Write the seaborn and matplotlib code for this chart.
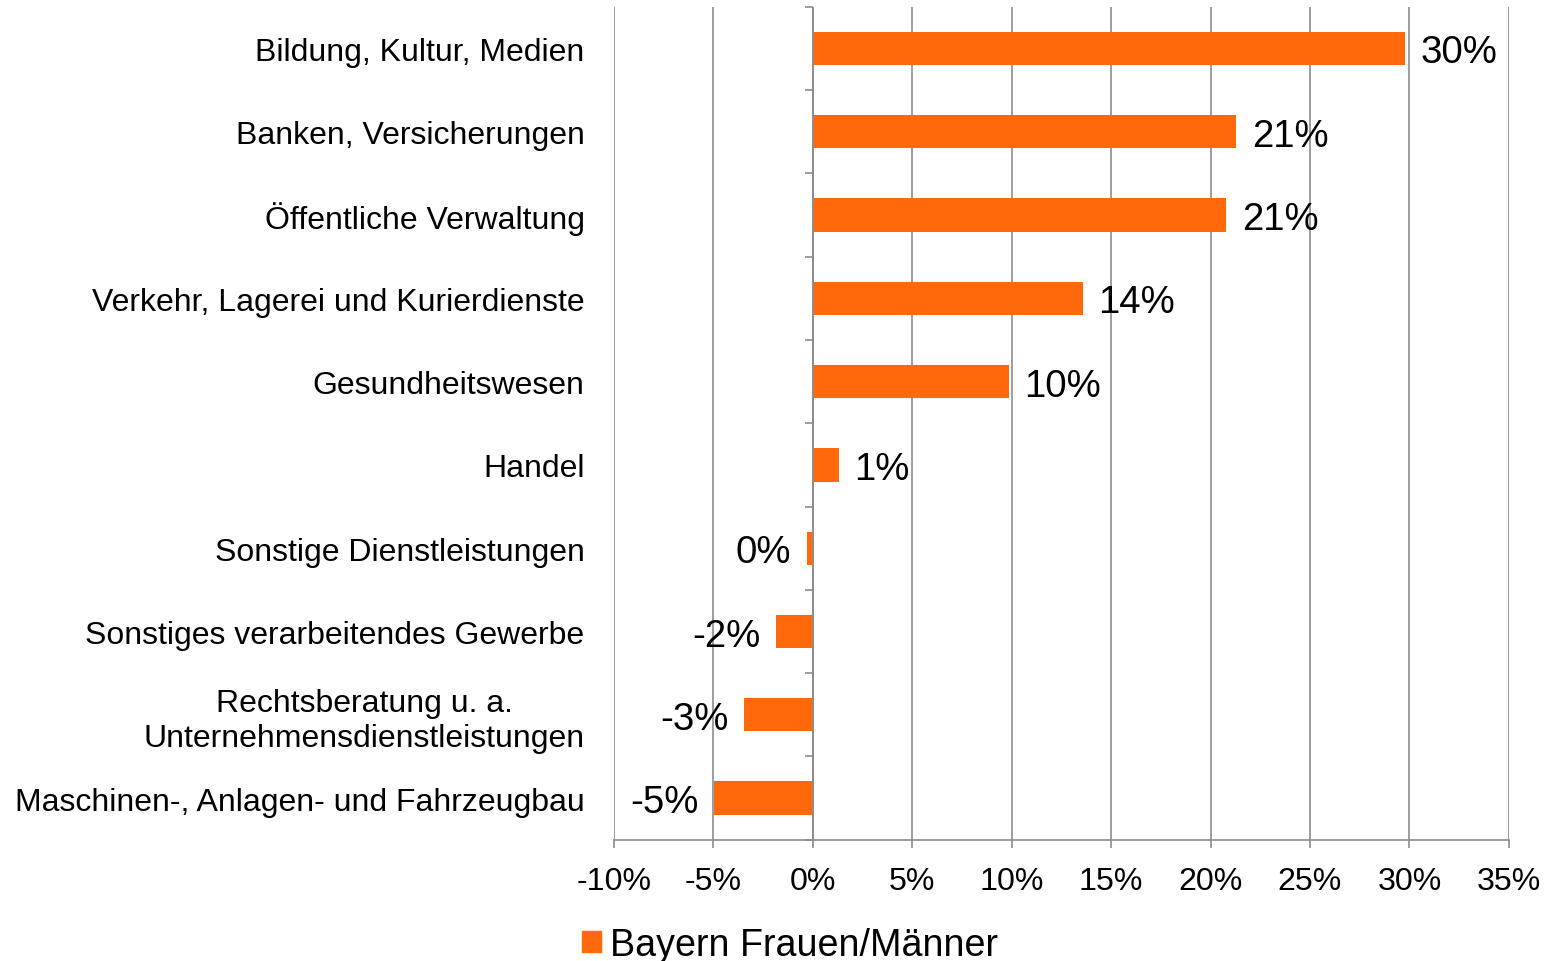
import matplotlib.pyplot as plt
import numpy as np
import pandas as pd
import seaborn as sns
from matplotlib.patches import Patch

# Data (percent)
categories = [
    "Bildung, Kultur, Medien",
    "Banken, Versicherungen",
    "Öffentliche Verwaltung",
    "Verkehr, Lagerei und Kurierdienste",
    "Gesundheitswesen",
    "Handel",
    "Sonstige Dienstleistungen",
    "Sonstiges verarbeitendes Gewerbe",
    "Rechtsberatung u. a.\nUnternehmensdienstleistungen",
    "Maschinen-, Anlagen- und Fahrzeugbau",
]
values = [29.8, 21.3, 20.8, 13.6, 9.85, 1.3, -0.3, -1.85, -3.45, -4.95]
x_ticks = [-10, -5, 0, 5, 10, 15, 20, 25, 30, 35]
series_name = "Bayern Frauen/Männer"

ORANGE = "#FF690C"
GRID = "#8C8C8C"

sns.set_theme(style="white")
plt.rcParams["font.family"] = ["Liberation Sans", "DejaVu Sans"]
plt.rcParams["text.color"] = "black"
plt.rcParams["xtick.labelcolor"] = "black"
plt.rcParams["ytick.labelcolor"] = "black"

df = pd.DataFrame({"Branche": categories, "Wert": values})

fig, ax = plt.subplots(figsize=(15.46, 9.62), dpi=100)
fig.subplots_adjust(left=0.397, right=0.976, top=0.992, bottom=0.126)

ax.set_axisbelow(True)
ax.xaxis.grid(True, color=GRID, linewidth=1.2)
ax.yaxis.grid(False)

sns.barplot(data=df, x="Wert", y="Branche", orient="h", color=ORANGE,
            saturation=1, width=0.4, linewidth=0, ax=ax)
ax.set_ylim(len(categories) - 0.5, -0.5)

# vertical axis crossing at 0 with tick marks between categories
ax.axvline(0, color=GRID, linewidth=1.2, zorder=1)
bounds = np.arange(len(categories) + 1) - 0.5
ax.hlines(bounds, -0.4, 0, color=GRID, linewidth=1.2, zorder=1, clip_on=False)

texts = ax.bar_label(ax.containers[0], labels=[f"{round(v)}%" for v in values],
                     padding=11, fontsize=27.6, color="black")
for t in texts:
    t.set_va("center_baseline")

ax.set_xlim(x_ticks[0], x_ticks[-1])
ax.set_xticks(x_ticks)
ax.set_xticklabels([f"{t}%" for t in x_ticks])
ax.tick_params(axis="x", length=6, width=1.2, color=GRID, pad=13, labelsize=23.1,
               labelcolor="black", bottom=True)
ax.tick_params(axis="y", length=0, pad=21, labelsize=23, labelcolor="black")
for lbl in ax.get_yticklabels():
    lbl.set_multialignment("center")

ax.set_xlabel("")
ax.set_ylabel("")
for side in ["top", "right", "left"]:
    ax.spines[side].set_visible(False)
ax.spines["bottom"].set_color(GRID)
ax.spines["bottom"].set_linewidth(1.2)

leg = fig.legend(handles=[Patch(color=ORANGE, label=series_name)], loc="center",
                 bbox_to_anchor=(790 / 1546, 1 - 946 / 962), frameon=False,
                 fontsize=27.1, handlelength=0.5, handleheight=0.5, handletextpad=0.25)
for t in leg.get_texts():
    t.set_color("black")

fig.savefig("out.png", dpi=100)
